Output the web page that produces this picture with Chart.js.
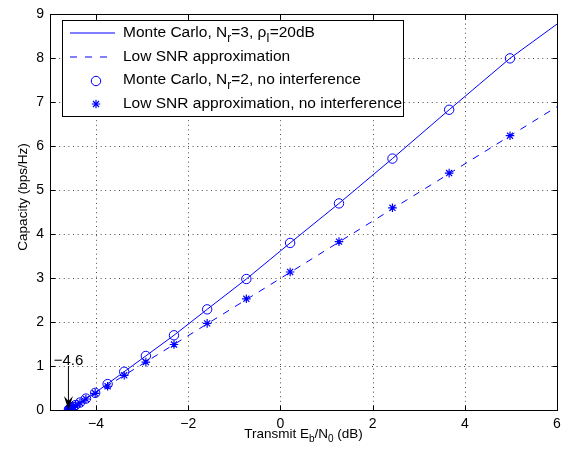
<!DOCTYPE html>
<html>
<head>
<meta charset="utf-8">
<script src="https://cdn.jsdelivr.net/npm/chart.js@4.4.1/dist/chart.umd.min.js"></script>
<style>
  html, body { margin: 0; padding: 0; background: #fff; }
  canvas { display: block; }
</style>
</head>
<body>
<canvas id="cap" width="573" height="458"></canvas>
<script>
// axis ticks
const xTicks = [-4, -2, 0, 2, 4, 6];
const yTicks = [0, 1, 2, 3, 4, 5, 6, 7, 8, 9];

// Monte Carlo, Nr=3, rho_I=20dB (solid line)
const mcInterfX = [-4.6, -4.5, -4.35, -4.02, -3.39, -2.31, -1.59, -0.74, 0.21, 1.27, 2.43, 3.66, 4.98, 6.0];
const mcInterfY = [0, 0.07, 0.17, 0.39, 0.87, 1.70, 2.29, 2.98, 3.80, 4.70, 5.72, 6.83, 8.00, 8.78];

// low SNR approximation (dashed line)
const lowX = [-4.6, 6.0];
const lowY = [0, 6.9];

// markers: no interference, Nr=2
const ebn0 = [-4.59, -4.58, -4.56, -4.55, -4.50, -4.45, -4.35, -4.22, -4.02, -3.75, -3.39, -2.92, -2.31, -1.59, -0.74, 0.21, 1.27, 2.43, 3.66, 4.98];
const capNoInt = [0.01, 0.02, 0.03, 0.045, 0.07, 0.11, 0.17, 0.26, 0.39, 0.59, 0.87, 1.23, 1.70, 2.29, 2.98, 3.80, 4.70, 5.72, 6.83, 8.00];
const capLowNoInt = [0.01, 0.01, 0.03, 0.03, 0.07, 0.10, 0.16, 0.25, 0.38, 0.54, 0.79, 1.09, 1.49, 1.97, 2.53, 3.14, 3.83, 4.60, 5.39, 6.24];

const legendText = [
    'Monte Carlo, N_{r}=3, \u03c1_{I}=20dB',
    'Low SNR approximation',
    'Monte Carlo, N_{r}=2, no interference',
    'Low SNR approximation, no interference'
];
const xTitle = 'Transmit E_{b}/N_{0} (dB)';
const yTitle = 'Capacity (bps/Hz)';
const minMark = -4.6;

const FONT = "'Liberation Sans', Arial, sans-serif";
const BLUE = 'rgb(0,0,255)';

const pts = (xs, ys) => xs.map((x, i) => ({ x: x, y: ys[i] }));

// split "a_{b}c" into normal / subscript pieces
const parseRich = (s) => {
    const parts = [];
    const re = /_\{([^}]*)\}/g;
    let last = 0, m;
    while ((m = re.exec(s)) !== null) {
        if (m.index > last) parts.push({ t: s.slice(last, m.index), sub: false });
        parts.push({ t: m[1], sub: true });
        last = re.lastIndex;
    }
    if (last < s.length) parts.push({ t: s.slice(last), sub: false });
    return parts;
};

const drawRich = (ctx, s, x, y, size, align) => {
    const parts = parseRich(s);
    const subSize = Math.round(size * 0.75);
    let w = 0;
    parts.forEach(p => {
        ctx.font = (p.sub ? subSize : size) + 'px ' + FONT;
        p.w = ctx.measureText(p.t).width;
        w += p.w;
    });
    let cx = align === 'center' ? x - w / 2 : x;
    ctx.textAlign = 'left';
    ctx.textBaseline = 'middle';
    parts.forEach(p => {
        ctx.font = (p.sub ? subSize : size) + 'px ' + FONT;
        ctx.fillText(p.t, cx, p.sub ? y + size * 0.38 : y);
        cx += p.w;
    });
};

const drawStar = (ctx, x, y, r) => {
    ctx.beginPath();
    for (let k = 0; k < 4; k++) {
        const a = k * Math.PI / 4;
        ctx.moveTo(x - r * Math.cos(a), y - r * Math.sin(a));
        ctx.lineTo(x + r * Math.cos(a), y + r * Math.sin(a));
    }
    ctx.stroke();
};

const matlabFrame = {
    id: 'matlabFrame',
    beforeDatasetsDraw(chart) {
        const { ctx, chartArea: a, scales: { x, y } } = chart;
        ctx.save();
        ctx.strokeStyle = 'rgba(0,0,0,0.7)';
        ctx.lineWidth = 1;
        ctx.setLineDash([1, 3.6]);
        xTicks.forEach(v => {
            const px = Math.round(x.getPixelForValue(v)) + 0.5;
            if (px <= a.left + 1 || px >= a.right - 1) return;
            ctx.beginPath(); ctx.moveTo(px, a.top); ctx.lineTo(px, a.bottom); ctx.stroke();
        });
        yTicks.forEach(v => {
            const py = Math.round(y.getPixelForValue(v)) + 0.5;
            if (py <= a.top + 1 || py >= a.bottom - 1) return;
            ctx.beginPath(); ctx.moveTo(a.left, py); ctx.lineTo(a.right, py); ctx.stroke();
        });
        ctx.restore();
    },
    afterDatasetsDraw(chart) {
        const { ctx, chartArea: a, scales: { x, y } } = chart;
        ctx.save();
        // box and inward ticks
        ctx.strokeStyle = '#000';
        ctx.lineWidth = 1;
        ctx.setLineDash([]);
        const L = Math.round(a.left) + 0.5, R = Math.round(a.right) + 0.5;
        const T = Math.round(a.top) + 0.5, B = Math.round(a.bottom) + 0.5;
        ctx.strokeRect(L, T, R - L, B - T);
        ctx.beginPath();
        xTicks.forEach(v => {
            const px = Math.round(x.getPixelForValue(v)) + 0.5;
            ctx.moveTo(px, B); ctx.lineTo(px, B - 5);
            ctx.moveTo(px, T); ctx.lineTo(px, T + 5);
        });
        yTicks.forEach(v => {
            const py = Math.round(y.getPixelForValue(v)) + 0.5;
            ctx.moveTo(L, py); ctx.lineTo(L + 5, py);
            ctx.moveTo(R, py); ctx.lineTo(R - 5, py);
        });
        ctx.stroke();

        // -4.6 annotation arrow
        const ax = x.getPixelForValue(minMark);
        const tipY = y.getPixelForValue(0);
        const topY = y.getPixelForValue(1.0);
        ctx.beginPath();
        ctx.moveTo(ax, topY); ctx.lineTo(ax, tipY - 8);
        ctx.stroke();
        ctx.fillStyle = '#000';
        ctx.beginPath();
        ctx.moveTo(ax, tipY);
        ctx.lineTo(ax - 4.5, tipY - 14);
        ctx.lineTo(ax, tipY - 9);
        ctx.lineTo(ax + 4.5, tipY - 14);
        ctx.closePath();
        ctx.fill();
        ctx.font = '15px ' + FONT;
        ctx.textAlign = 'center';
        ctx.textBaseline = 'middle';
        ctx.fillText('\u2212' + Math.abs(minMark).toFixed(1), ax, y.getPixelForValue(1.12));

        // legend
        const lx = 62, ly = 20, lw = 341, lh = 96;
        ctx.fillStyle = '#fff';
        ctx.fillRect(lx, ly, lw, lh);
        ctx.strokeStyle = '#000';
        ctx.strokeRect(lx + 0.5, ly + 0.5, lw, lh);
        const rows = [33, 57, 80, 104];
        chart.data.datasets.forEach((ds, i) => {
            const ry = rows[i];
            ctx.strokeStyle = BLUE;
            ctx.lineWidth = 1.2;
            if (ds.showLine) {
                ctx.setLineDash(i === 1 ? [7, 8] : []);
                ctx.beginPath();
                ctx.moveTo(70, ry); ctx.lineTo(115, ry);
                ctx.stroke();
                ctx.setLineDash([]);
            } else if (ds.pointStyle === 'circle') {
                ctx.lineWidth = 1;
                ctx.beginPath();
                ctx.arc(96, ry + 1, ds.pointRadius, 0, Math.PI * 2);
                ctx.stroke();
            } else {
                drawStar(ctx, 96, ry, ds.pointRadius);
            }
            ctx.fillStyle = '#000';
            drawRich(ctx, legendText[i], 123, ry, 15.5, 'left');
        });
        ctx.restore();
    },
    afterDraw(chart) {
        const { ctx, chartArea: a } = chart;
        ctx.save();
        ctx.fillStyle = '#000';
        drawRich(ctx, xTitle, (a.left + a.right) / 2, 434, 13.5, 'center');
        ctx.translate(23, 197);
        ctx.rotate(-Math.PI / 2);
        ctx.font = '13.5px ' + FONT;
        ctx.textAlign = 'center';
        ctx.textBaseline = 'middle';
        ctx.fillText(yTitle, 0, 0);
        ctx.restore();
    }
};

new Chart(document.getElementById('cap'), {
    type: 'scatter',
    data: {
        datasets: [
            {
                data: pts(mcInterfX, mcInterfY),
                showLine: true,
                borderColor: BLUE,
                borderWidth: 1,
                pointRadius: 0,
                fill: false
            },
            {
                data: pts(lowX, lowY),
                showLine: true,
                borderColor: BLUE,
                borderWidth: 1,
                borderDash: [7, 7],
                pointRadius: 0,
                fill: false
            },
            {
                data: pts(ebn0, capNoInt),
                showLine: false,
                pointStyle: 'circle',
                pointRadius: 4.7,
                borderColor: BLUE,
                backgroundColor: 'rgba(0,0,0,0)',
                pointBorderWidth: 1
            },
            {
                data: pts(ebn0, capLowNoInt),
                showLine: false,
                pointStyle: 'star',
                pointRadius: 4.3,
                borderColor: BLUE,
                backgroundColor: BLUE,
                pointBorderWidth: 1.2
            }
        ]
    },
    options: {
        responsive: false,
        animation: false,
        devicePixelRatio: 1,
        layout: { padding: { top: 12, right: 16, left: 0, bottom: 0 } },
        plugins: { legend: { display: false }, tooltip: { enabled: false } },
        scales: {
            x: {
                type: 'linear',
                min: -5,
                max: 6,
                grid: { display: false, drawTicks: false },
                border: { display: false },
                afterBuildTicks: (s) => { s.ticks = xTicks.map(v => ({ value: v })); },
                afterFit: (s) => { s.height = 48; },
                ticks: {
                    padding: 6,
                    color: '#000',
                    font: { family: FONT, size: 14 },
                    callback: (v) => (v < 0 ? '\u2212' + Math.abs(v) : String(v))
                }
            },
            y: {
                type: 'linear',
                min: 0,
                max: 9,
                grid: { display: false, drawTicks: false },
                border: { display: false },
                afterBuildTicks: (s) => { s.ticks = yTicks.map(v => ({ value: v })); },
                afterFit: (s) => { s.width = 50; },
                ticks: {
                    padding: 6,
                    color: '#000',
                    font: { family: FONT, size: 14 }
                }
            }
        }
    },
    plugins: [matlabFrame]
});
</script>
</body>
</html>
